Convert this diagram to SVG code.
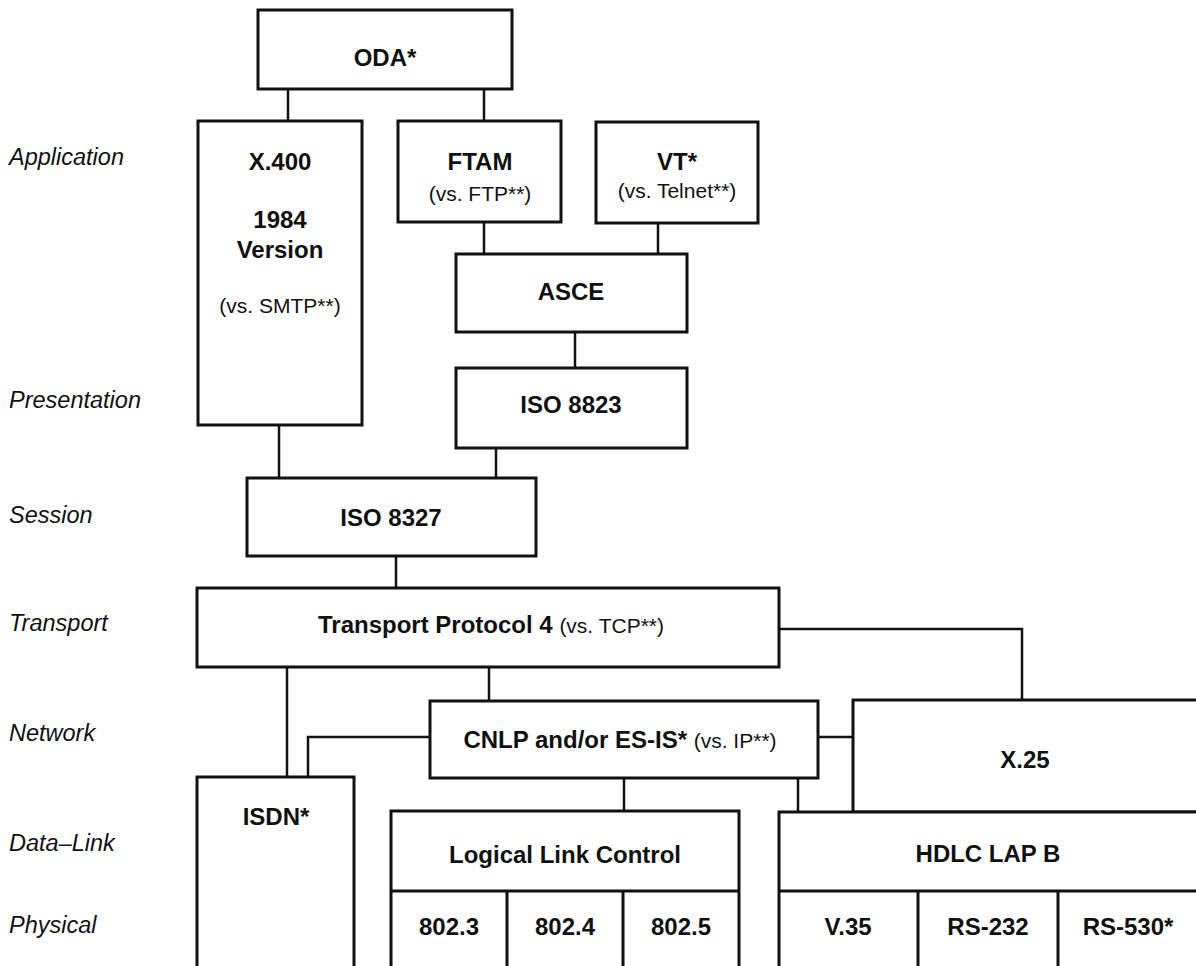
<svg xmlns="http://www.w3.org/2000/svg" width="1196" height="966" viewBox="0 0 1196 966">
<style>
.box{fill:#fff;stroke:#111;stroke-width:3}
.div{fill:none;stroke:#111;stroke-width:3}
.con{fill:none;stroke:#111;stroke-width:2.5}
.b{font-family:"Liberation Sans",Arial,sans-serif;font-weight:bold;font-size:24px;fill:#111;text-anchor:middle}
.r{font-family:"Liberation Sans",Arial,sans-serif;font-weight:normal;font-size:21px;fill:#111}
.rc{font-family:"Liberation Sans",Arial,sans-serif;font-size:21px;fill:#111;text-anchor:middle}
.lay{font-family:"Liberation Sans",Arial,sans-serif;font-style:italic;font-size:23.5px;fill:#111}
</style>
<rect width="1196" height="966" fill="#fff"/>
<g id="layers">
<text class="lay" x="9" y="165">Application</text>
<text class="lay" x="9" y="408">Presentation</text>
<text class="lay" x="9" y="523">Session</text>
<text class="lay" x="9" y="631">Transport</text>
<text class="lay" x="9" y="741">Network</text>
<text class="lay" x="9" y="851">Data–Link</text>
<text class="lay" x="9" y="933">Physical</text>
</g>
<g id="connectors">
<path class="con" d="M288 89V121"/>
<path class="con" d="M484 89V121"/>
<path class="con" d="M484 222V254"/>
<path class="con" d="M658 223V254"/>
<path class="con" d="M575 332V368"/>
<path class="con" d="M279 425V478"/>
<path class="con" d="M496 448V478"/>
<path class="con" d="M396 556V588"/>
<path class="con" d="M287 667V777"/>
<path class="con" d="M489 667V701"/>
<path class="con" d="M779 629H1022V700"/>
<path class="con" d="M430 737H308V777"/>
<path class="con" d="M818 737H853"/>
<path class="con" d="M624 778V811"/>
<path class="con" d="M798 778V812"/>
</g>
<g id="oda">
<rect class="box" x="258" y="10" width="254" height="79"/>
<text class="b" x="385" y="66">ODA*</text>
</g>
<g id="x400">
<rect class="box" x="198" y="121" width="164" height="304"/>
<text class="b" x="280" y="170">X.400</text>
<text class="b" x="280" y="228">1984</text>
<text class="b" x="280" y="258">Version</text>
<text class="rc" x="280" y="313">(vs. SMTP**)</text>
</g>
<g id="ftam">
<rect class="box" x="398" y="121" width="163" height="101"/>
<text class="b" x="480" y="170">FTAM</text>
<text class="rc" x="480" y="201">(vs. FTP**)</text>
</g>
<g id="vt">
<rect class="box" x="596" y="122" width="162" height="101"/>
<text class="b" x="677" y="170">VT*</text>
<text class="rc" x="677" y="198">(vs. Telnet**)</text>
</g>
<g id="asce">
<rect class="box" x="456" y="254" width="231" height="78"/>
<text class="b" x="571" y="300">ASCE</text>
</g>
<g id="iso8823">
<rect class="box" x="456" y="368" width="231" height="80"/>
<text class="b" x="571" y="413">ISO 8823</text>
</g>
<g id="iso8327">
<rect class="box" x="247" y="478" width="289" height="78"/>
<text class="b" x="391" y="526">ISO 8327</text>
</g>
<g id="transport">
<rect class="box" x="197" y="588" width="582" height="79"/>
<text class="b" x="491" y="633">Transport Protocol 4 <tspan class="r">(vs. TCP**)</tspan></text>
</g>
<g id="cnlp">
<rect class="box" x="430" y="701" width="388" height="77"/>
<text class="b" x="620" y="748">CNLP and/or ES-IS* <tspan class="r">(vs. IP**)</tspan></text>
</g>
<g id="x25">
<rect class="box" x="853" y="700" width="350" height="112"/>
<text class="b" x="1025" y="768">X.25</text>
</g>
<g id="isdn">
<rect class="box" x="197" y="777" width="157" height="200"/>
<text class="b" x="276" y="825">ISDN*</text>
</g>
<g id="llc">
<rect class="box" x="391" y="811" width="348" height="170"/>
<path class="div" d="M391 891H739M507 891V975M623 891V975"/>
<text class="b" x="565" y="863">Logical Link Control</text>
<text class="b" x="449" y="935">802.3</text>
<text class="b" x="565" y="935">802.4</text>
<text class="b" x="681" y="935">802.5</text>
</g>
<g id="hdlc">
<rect class="box" x="779" y="812" width="424" height="170"/>
<path class="div" d="M779 891H1203M918 891V975M1058 891V975"/>
<text class="b" x="988" y="862">HDLC LAP B</text>
<text class="b" x="848" y="935">V.35</text>
<text class="b" x="988" y="935">RS-232</text>
<text class="b" x="1128" y="935">RS-530*</text>
</g>
</svg>
